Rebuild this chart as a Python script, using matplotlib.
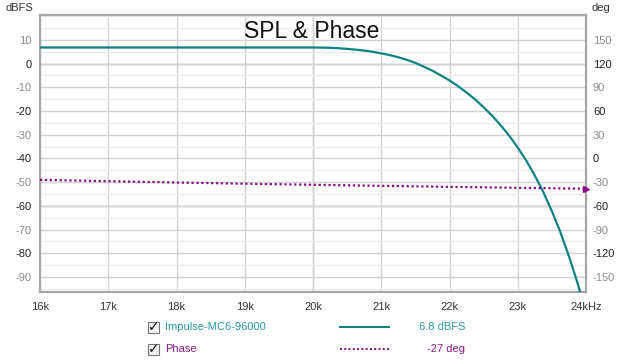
import numpy as np
import matplotlib
matplotlib.use("Agg")
import matplotlib.pyplot as plt
from matplotlib.ticker import MultipleLocator, FixedLocator
from matplotlib.patches import Rectangle
from matplotlib.lines import Line2D

plt.rcParams['font.family'] = ['Liberation Sans', 'DejaVu Sans']
plt.rcParams['axes.unicode_minus'] = False

# ---- data ----
spl_freq = [16000, 17000, 18000, 19000, 19500, 20000, 20125, 20250, 20375, 20500,
            20625, 20750, 20875, 21000, 21125, 21250, 21375, 21500, 21625, 21750,
            21875, 22000, 22125, 22250, 22375, 22500, 22625, 22750, 22875, 23000,
            23125, 23250, 23375, 23500, 23625, 23750, 23875, 24000]
spl_db = [6.8, 6.8, 6.8, 6.8, 6.8, 6.8, 6.75, 6.65, 6.5, 6.2,
          5.9, 5.5, 5.0, 4.3, 3.6, 2.7, 1.6, 0.3, -1.3, -3.0,
          -5.0, -7.1, -9.5, -12.2, -15.1, -18.4, -22.0, -26.0, -30.4, -35.4,
          -40.9, -47.2, -54.2, -62.2, -71.1, -81.2, -92.4, -105.0]

phase_freq = [16000, 17000, 18000, 19000, 20000, 21000, 22000, 23000, 24000]
phase_deg = [-27.0, -28.7, -30.4, -31.9, -33.3, -34.6, -35.9, -37.1, -38.3]

x_ticks = [16000, 17000, 18000, 19000, 20000, 21000, 22000, 23000, 24000]
x_labels = ['16k', '17k', '18k', '19k', '20k', '21k', '22k', '23k', '24kHz']
left_ticks = [10, 0, -10, -20, -30, -40, -50, -60, -70, -80, -90]
right_ticks = [150, 120, 90, 60, 30, 0, -30, -60, -90, -120, -150]

spl_name = 'Impulse-MC6-96000'
phase_name = 'Phase'
spl_value = '6.8 dBFS'
phase_value = '-27 deg'

teal = '#0e8282'
teal_text = '#2a9aa2'
purple = '#8a0a8a'
purple_text = '#8a1a8a'

# ---- figure ----
fig = plt.figure(figsize=(6.38, 3.62), dpi=100)
ax = fig.add_axes([40/638, 1-292/362, 546/638, 277/362])
ax.set_xlim(16000, 24000)
ax.set_ylim(-96.3, 20.5)

ax.set_xticks(x_ticks)
ax.set_xticklabels(x_labels)
ax.xaxis.set_minor_locator(FixedLocator([]))
ax.set_yticks(left_ticks)
ax.yaxis.set_minor_locator(MultipleLocator(5))

ax.grid(True, which='major', axis='both', color='#d2d2d2', lw=1.0, zorder=0)
ax.grid(True, which='minor', axis='y', color='#ebebeb', lw=1.0, zorder=0)
for yv in (0, -60):
    ax.axhline(yv, color='#bcbcbc', lw=1.0, zorder=0.5)
ax.axvline(20000, color='#c4c4c4', lw=1.0, zorder=0.5)
ax.set_axisbelow(True)

ax.tick_params(axis='both', which='both', length=0, labelsize=8)
ax.tick_params(axis='x', pad=7, colors='#333333')
ax.tick_params(axis='y', pad=6)
for lab, v in zip(ax.get_yticklabels(), left_ticks):
    lab.set_color('#222222' if v % 20 == 0 else '#8a8a8a')

for s in ax.spines.values():
    s.set_color('#a6a6a6')
    s.set_linewidth(1.6)

ax.plot(spl_freq, spl_db, color=teal, lw=1.6, zorder=3, solid_capstyle='butt',
        solid_joinstyle='round')

ax2 = ax.twinx()
ax2.set_ylim(-96.3*3 + 120, 20.5*3 + 120)
ax2.set_yticks(right_ticks)
ax2.tick_params(axis='y', length=0, labelsize=8, pad=5)
for lab, v in zip(ax2.get_yticklabels(), right_ticks):
    lab.set_color('#222222' if v % 60 == 0 else '#8a8a8a')
for s in ax2.spines.values():
    s.set_visible(False)
ax2.plot(phase_freq, phase_deg, color=purple, lw=1.6, linestyle=(0, (1, 1.2)), zorder=3)
ax2.plot([phase_freq[-1]], [phase_deg[-1]], marker='>', color=purple, ms=4, zorder=4, clip_on=False)

# axis unit labels
fig.text(6/638, 1-8/362, 'dBFS', fontsize=8, color='#333333', va='center', ha='left')
fig.text(592/638, 1-8/362, 'deg', fontsize=8, color='#333333', va='center', ha='left')

# title
ax.text(312/638, 1-31/362, 'SPL & Phase', transform=fig.transFigure, fontsize=16.5,
        color='#111111', ha='center', va='center')

# legend area
rows = [(spl_name, spl_value, teal, teal_text, '-', 327),
        (phase_name, phase_value, purple, purple_text, (0, (1, 1.2)), 349)]
for name, val, col, tcol, ls, yp in rows:
    yf = 1 - yp/362
    fig.patches.append(Rectangle((148/638, 1-(yp+6)/362), 11/638, 11/362,
                                 transform=fig.transFigure, facecolor='#f2f2f2',
                                 edgecolor='#777777', lw=0.8))
    fig.text(153.5/638, yf, '✓', fontsize=10, color='#111111', ha='center', va='center',
             family=['DejaVu Sans'], fontweight='bold')
    fig.text(165/638, yf, name, fontsize=8, color=tcol, ha='left', va='center')
    fig.lines.append(Line2D([340/638, 389/638], [yf, yf], transform=fig.transFigure,
                            color=col, lw=1.5 if ls == '-' else 1.4, linestyle=ls))
    fig.text(465/638, yf, val, fontsize=8, color=tcol, ha='right', va='center')

fig.savefig('out.png', dpi=100)
